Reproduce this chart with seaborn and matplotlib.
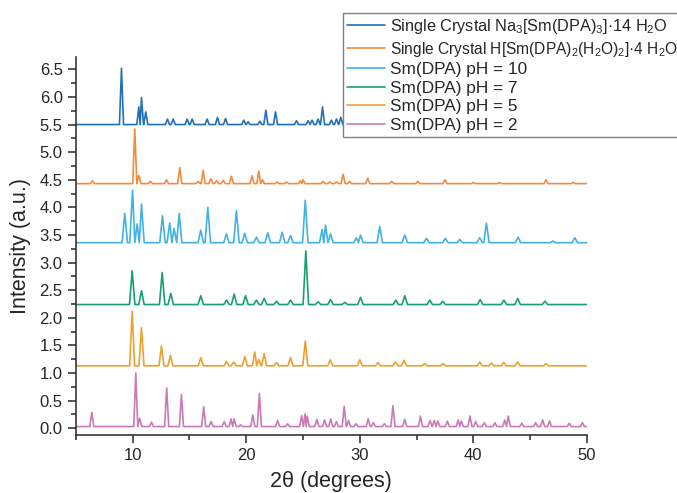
import matplotlib
matplotlib.use("Agg")
import matplotlib.pyplot as plt
import pandas as pd
import seaborn as sns
from matplotlib.ticker import MultipleLocator

# series labels and colours
labels = [
    "Single Crystal Na$_3$[Sm(DPA)$_3$]\u00b714 H$_2$O",
    "Single Crystal H[Sm(DPA)$_2$(H$_2$O)$_2$]\u00b74 H$_2$O",
    "Sm(DPA) pH = 10",
    "Sm(DPA) pH = 7",
    "Sm(DPA) pH = 5",
    "Sm(DPA) pH = 2",
]
colors = ["#2270b5", "#f38b3e", "#42b2e4", "#17a06e", "#eda030", "#cc7ab6"]
baselines = [5.50, 4.43, 3.36, 2.24, 1.13, 0.03]

# peak positions (2theta) and peak tops (stacked intensity)
na_x = [9.02, 10.55, 10.78, 11.16, 13.07, 13.57, 14.8, 15.24, 16.56, 17.47, 18.18,
        19.79, 20.17, 21.2, 21.73, 22.58, 24.43, 25.45, 25.8, 26.33, 26.72, 27.5,
        27.95, 28.33]
na_y = [6.52, 5.82, 5.99, 5.73, 5.6, 5.6, 5.6, 5.6, 5.6, 5.63, 5.61,
        5.58, 5.55, 5.56, 5.76, 5.73, 5.57, 5.57, 5.58, 5.6, 5.82, 5.58,
        5.6, 5.63]

h_x = [6.47, 10.19, 10.55, 11.57, 12.98, 14.15, 15.77, 16.21, 16.89, 17.39, 17.97,
       18.7, 20.52, 21.11, 21.43, 22.72, 23.55, 24.78, 25.01, 26.77, 27.36, 27.95,
       28.53, 29.1, 30.7, 32.8, 35.1, 37.5, 40.0, 42.3, 46.4, 48.8]
h_y = [4.48, 5.42, 4.58, 4.47, 4.5, 4.72, 4.47, 4.67, 4.52, 4.48, 4.49,
       4.56, 4.57, 4.66, 4.5, 4.46, 4.46, 4.48, 4.5, 4.47, 4.46, 4.46,
       4.6, 4.47, 4.53, 4.47, 4.47, 4.5, 4.45, 4.45, 4.5, 4.45]

ph10_x = [9.31, 9.99, 10.4, 10.78, 12.63, 13.27, 13.65, 14.1, 16.0, 16.62, 18.26,
          19.14, 19.87, 20.9, 21.9, 23.17, 23.9, 25.2, 26.69, 26.98, 27.42, 29.7,
          30.06, 31.76, 33.96, 35.87, 37.54, 38.8, 40.56, 41.15, 43.93, 47.0, 48.93]
ph10_y = [3.89, 4.31, 3.7, 4.06, 3.85, 3.72, 3.62, 3.89, 3.59, 4.0, 3.52,
          3.94, 3.53, 3.46, 3.54, 3.55, 3.49, 4.13, 3.6, 3.68, 3.52, 3.45,
          3.5, 3.65, 3.5, 3.44, 3.44, 3.42, 3.45, 3.71, 3.46, 3.39, 3.45]

ph7_x = [9.96, 10.78, 12.6, 13.36, 16.0, 18.27, 18.94, 19.94, 20.9, 21.58, 22.67,
         23.9, 25.25, 26.33, 27.42, 28.68, 30.06, 33.17, 33.96, 36.16, 37.3, 40.6,
         42.68, 43.9, 46.3]
ph7_y = [2.85, 2.49, 2.82, 2.44, 2.4, 2.32, 2.43, 2.4, 2.32, 2.35, 2.3,
         2.32, 3.21, 2.29, 2.33, 2.28, 2.37, 2.32, 2.4, 2.32, 2.3, 2.33,
         2.32, 2.35, 2.3]

ph5_x = [9.96, 10.78, 12.54, 13.33, 16.0, 18.27, 18.9, 19.88, 20.76, 21.1, 21.58,
         22.67, 23.9, 25.2, 27.4, 30.0, 31.6, 33.14, 33.9, 35.7, 37.33, 40.56,
         41.59, 42.68, 43.9, 46.4]
ph5_y = [2.11, 1.82, 1.49, 1.32, 1.28, 1.21, 1.2, 1.3, 1.38, 1.24, 1.35,
         1.19, 1.28, 1.58, 1.24, 1.24, 1.19, 1.2, 1.23, 1.17, 1.17, 1.2,
         1.18, 1.19, 1.2, 1.17]

ph2_x = [6.41, 10.28, 10.62, 11.66, 13.0, 14.3, 16.26, 16.91, 18.06, 18.67, 18.94,
         19.51, 20.58, 21.16, 22.77, 23.65, 24.88, 25.18, 25.37, 26.22, 26.9, 27.44,
         27.94, 28.63, 29.01, 29.66, 30.74, 31.2, 32.16, 32.92, 33.96, 35.34, 36.18,
         36.56, 36.87, 37.71, 38.67, 38.94, 39.7, 40.2, 40.96, 41.9, 42.76, 43.07,
         44.26, 45.48, 46.1, 46.71, 48.44, 49.6]
ph2_y = [0.29, 1.0, 0.18, 0.11, 0.73, 0.61, 0.39, 0.12, 0.12, 0.17, 0.17,
         0.06, 0.24, 0.63, 0.14, 0.08, 0.23, 0.26, 0.22, 0.16, 0.15, 0.17,
         0.12, 0.4, 0.14, 0.08, 0.17, 0.1, 0.08, 0.41, 0.16, 0.22, 0.14,
         0.14, 0.13, 0.13, 0.15, 0.13, 0.22, 0.12, 0.1, 0.1, 0.15, 0.22,
         0.09, 0.1, 0.15, 0.13, 0.09, 0.1]

peaks = [(na_x, na_y), (h_x, h_y), (ph10_x, ph10_y), (ph7_x, ph7_y),
         (ph5_x, ph5_y), (ph2_x, ph2_y)]
widths = [0.18, 0.18, 0.24, 0.24, 0.22, 0.18]


def stick_profile(px, py, base, w):
    # connect each listed peak top to the baseline on both sides
    xs, ys = [5.0], [base]
    for i in range(len(px)):
        lo, hi = px[i] - w, px[i] + w
        if i > 0:
            lo = max(lo, (px[i - 1] + px[i]) / 2)
        if i < len(px) - 1:
            hi = min(hi, (px[i] + px[i + 1]) / 2)
        xs += [lo, px[i], hi]
        ys += [base, py[i], base]
    xs.append(50.0)
    ys.append(base)
    return pd.DataFrame({"x": xs, "y": ys})


sns.set_style("ticks")
plt.rcParams["font.family"] = ["Liberation Sans", "DejaVu Sans"]
plt.rcParams["mathtext.fontset"] = "custom"
plt.rcParams["mathtext.rm"] = "Liberation Sans"
plt.rcParams["mathtext.it"] = "Liberation Sans:italic"
plt.rcParams["mathtext.default"] = "regular"

fig = plt.figure(figsize=(6.77, 4.93), dpi=100)
ax = fig.add_axes([0.112, 0.118, 0.755, 0.766])

for (px, py), base, w, c, lab in zip(peaks, baselines, widths, colors, labels):
    df = stick_profile(px, py, base, w)
    sns.lineplot(data=df, x="x", y="y", ax=ax, color=c, label=lab,
                 linewidth=1.2, sort=False, estimator=None)

ax.set_xlim(5, 50)
ax.set_ylim(-0.12, 6.72)
ax.xaxis.set_major_locator(MultipleLocator(10))
ax.xaxis.set_minor_locator(MultipleLocator(5))
ax.yaxis.set_major_locator(MultipleLocator(0.5))
ax.yaxis.set_minor_locator(MultipleLocator(0.25))
ax.tick_params(which="major", direction="out", length=6, width=1.1, labelsize=12)
ax.tick_params(which="minor", direction="out", length=3.5, width=1.1)
for s in ["left", "bottom"]:
    ax.spines[s].set_linewidth(1.1)
sns.despine(ax=ax)

ax.set_xlabel("2\u03b8 (degrees)", fontsize=15.5, labelpad=6)
ax.set_ylabel("Intensity (a.u.)", fontsize=15.5, labelpad=6)

leg = ax.legend(loc="upper left", bbox_to_anchor=(343 / 677, 1 - 13 / 493),
                bbox_transform=fig.transFigure, fontsize=12.4, frameon=True,
                fancybox=False, edgecolor="#808080", framealpha=1,
                handlelength=2.2, handletextpad=0.3, labelspacing=0.2,
                borderpad=0.25, borderaxespad=0)
leg.get_frame().set_linewidth(1.0)
# the two formula labels are long; keep them inside the figure
leg.get_texts()[0].set_fontsize(11.7)
leg.get_texts()[1].set_fontsize(11.2)

fig.savefig("out.png", dpi=100)
